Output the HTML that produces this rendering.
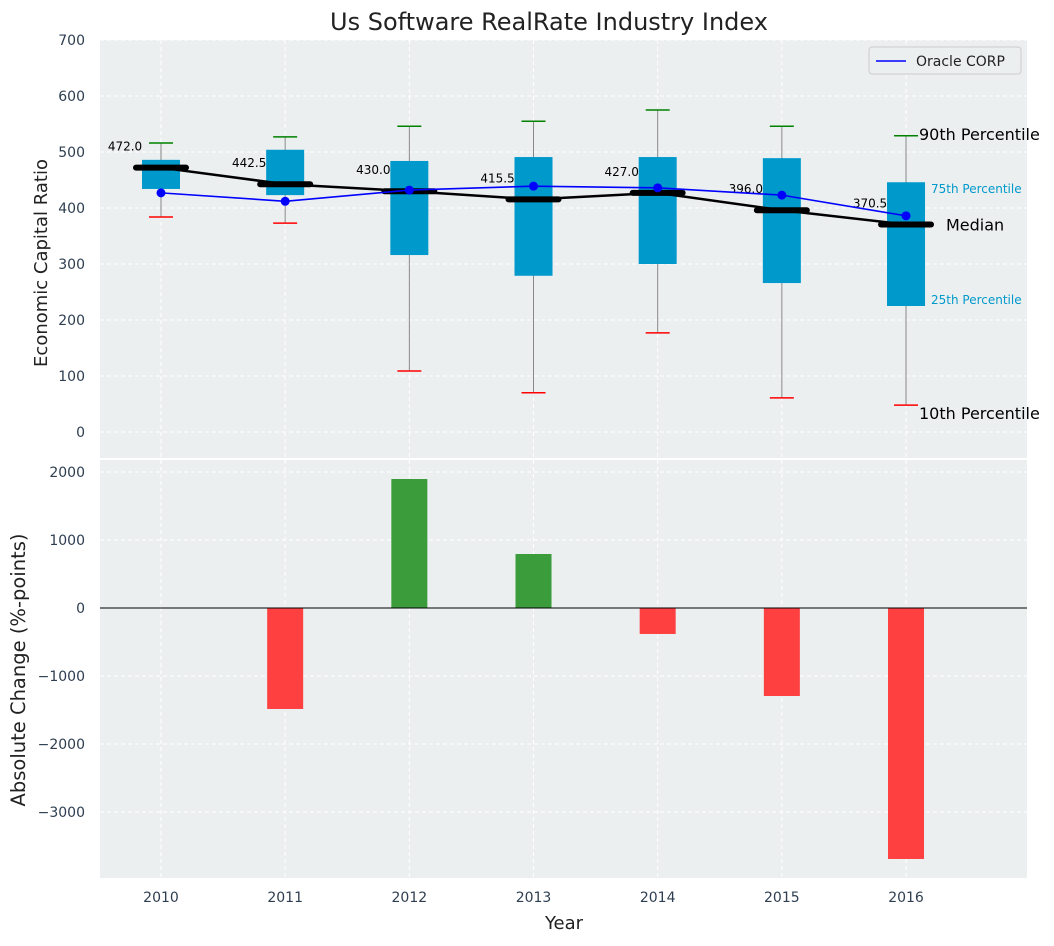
<!DOCTYPE html>
<html><head><meta charset="utf-8"><style>
body{margin:0;background:#fff;font-family:"DejaVu Sans","Liberation Sans",sans-serif}
</style></head><body>
<svg id="c" width="1054" height="942" xmlns="http://www.w3.org/2000/svg" font-family="DejaVu Sans, Liberation Sans, sans-serif"></svg>
<script>
const years=[2010,2011,2012,2013,2014,2015,2016];
const q1=[434,423,316,279,300,266,225];
const q3=[486,504,484,491,491,489,446];
const medians=[472.0,442.5,430.0,415.5,427.0,396.0,370.5];
const p10=[384,373,109,70,177,61,48];
const p90=[516,527,546,555,575,546,529];
const oracle=[427,412,432,439,436,423,386];
const changes=[0,-1485,1897,794,-382,-1294,-3691];
const topTicks=[0,100,200,300,400,500,600,700];
const botTicks=[-3000,-2000,-1000,0,1000,2000];

const svg=document.getElementById('c');const NS='http://www.w3.org/2000/svg';
function el(t,a,p){const e=document.createElementNS(NS,t);for(const k in a)e.setAttribute(k,a[k]);(p||svg).appendChild(e);return e;}
const X0=100,X1=1027;
const xs=v=>161+(v-2010)*124.17;
const yt=v=>432-v*0.56;
const yb=v=>608-v*0.068;
function txt(s,a,name){const e=el('text',a);e.textContent=s;return e;}

let r=el('rect',{x:X0,y:40,width:X1-X0,height:418,fill:'#eceff0'});

r=el('rect',{x:X0,y:460,width:X1-X0,height:418,fill:'#eceff0'});


years.forEach(y=>{
  let g=el('line',{x1:xs(y),x2:xs(y),y1:40,y2:458,stroke:'#fff','stroke-dasharray':'4,3'});
  
  g=el('line',{x1:xs(y),x2:xs(y),y1:460,y2:878,stroke:'#fff','stroke-dasharray':'4,3'});
  
  txt(y,{x:xs(y),y:902,'text-anchor':'middle','font-size':14,fill:'#2e3e50'},'x-tick-label');
});
topTicks.forEach(t=>{
  const g=el('line',{x1:X0,x2:X1,y1:yt(t),y2:yt(t),stroke:'#fff','stroke-dasharray':'4,3'});
  
  txt(t,{x:85,y:yt(t)+5,'text-anchor':'end','font-size':14,fill:'#2e3e50'},'top-y-tick-label');
});
botTicks.forEach(t=>{
  const g=el('line',{x1:X0,x2:X1,y1:yb(t),y2:yb(t),stroke:'#fff','stroke-dasharray':'4,3'});
  
  txt((t<0?'\u2212':'')+Math.abs(t),{x:85,y:yb(t)+5,'text-anchor':'end','font-size':14,fill:'#2e3e50'},'bottom-y-tick-label');
});

years.forEach((y,i)=>{
  const cx=xs(y);
  let w=el('line',{x1:cx,x2:cx,y1:yt(p90[i]),y2:yt(p10[i]),stroke:'#888','stroke-width':1});
  
  let b=el('rect',{x:cx-19,y:yt(q3[i]),width:38,height:yt(q1[i])-yt(q3[i]),fill:'#0099cc'});
  
  let c=el('line',{x1:cx-12,x2:cx+12,y1:yt(p90[i]),y2:yt(p90[i]),stroke:'green','stroke-width':1.5});
  
  c=el('line',{x1:cx-12,x2:cx+12,y1:yt(p10[i]),y2:yt(p10[i]),stroke:'red','stroke-width':1.5});
  
});
let mp=el('polyline',{points:years.map((y,i)=>xs(y)+','+yt(medians[i])).join(' '),fill:'none',stroke:'#000','stroke-width':2.5});

years.forEach((y,i)=>{
  const m=el('line',{x1:xs(y)-25,x2:xs(y)+25,y1:yt(medians[i]),y2:yt(medians[i]),stroke:'#000','stroke-width':6,'stroke-linecap':'round'});
  
  txt(medians[i].toFixed(1),{x:xs(y)-36,y:yt(medians[i])-17,'text-anchor':'middle','font-size':12,fill:'#000'},'median-value-label');
});
let op=el('polyline',{points:years.map((y,i)=>xs(y)+','+yt(oracle[i])).join(' '),fill:'none',stroke:'#0000ff','stroke-width':1.6});

years.forEach((y,i)=>{const d=el('circle',{cx:xs(y),cy:yt(oracle[i]),r:4.5,fill:'#0000ff'});
  });

txt('90th Percentile',{x:919,y:yt(p90[6])+4,'font-size':16,fill:'#000'},'p90-annotation');
txt('75th Percentile',{x:931,y:yt(q3[6])+11,'font-size':12,fill:'#0099cc'},'p75-annotation');
txt('Median',{x:946,y:yt(medians[6])+6,'font-size':16,fill:'#000'},'median-annotation');
txt('25th Percentile',{x:931,y:yt(q1[6])-2,'font-size':12,fill:'#0099cc'},'p25-annotation');
txt('10th Percentile',{x:919,y:yt(p10[6])+14,'font-size':16,fill:'#000'},'p10-annotation');

let lg=el('rect',{x:869,y:47,width:152,height:27,fill:'#eceff0',stroke:'#ccc',rx:3});

let ll=el('line',{x1:876,x2:906,y1:61,y2:61,stroke:'#0000ff','stroke-width':1.6});

txt('Oracle CORP',{x:916,y:66,'font-size':14,fill:'#222'},'legend-entry');

years.forEach((y,i)=>{
  const v=changes[i];const y0=yb(Math.max(v,0)),h=Math.abs(yb(v)-yb(0));
  const b=el('rect',{x:xs(y)-18,y:y0,width:36,height:h,fill:v>=0?'#3a9c3a':'#ff4040'});
  
});
let z=el('line',{x1:X0,x2:X1,y1:yb(0),y2:yb(0),stroke:'#000','stroke-width':1});


txt('Us Software RealRate Industry Index',{x:549,y:30,'text-anchor':'middle','font-size':24,fill:'#222'},'chart-title');
txt('Year',{x:564,y:929,'text-anchor':'middle','font-size':18,fill:'#222'},'x-axis-title');
txt('Economic Capital Ratio',{x:0,y:0,transform:'translate(47,263) rotate(-90)','text-anchor':'middle','font-size':18,fill:'#222'},'top-y-axis-title');
txt('Absolute Change (%-points)',{x:0,y:0,transform:'translate(25,670) rotate(-90)','text-anchor':'middle','font-size':19.5,fill:'#222'},'bottom-y-axis-title');
</script>
</body></html>
